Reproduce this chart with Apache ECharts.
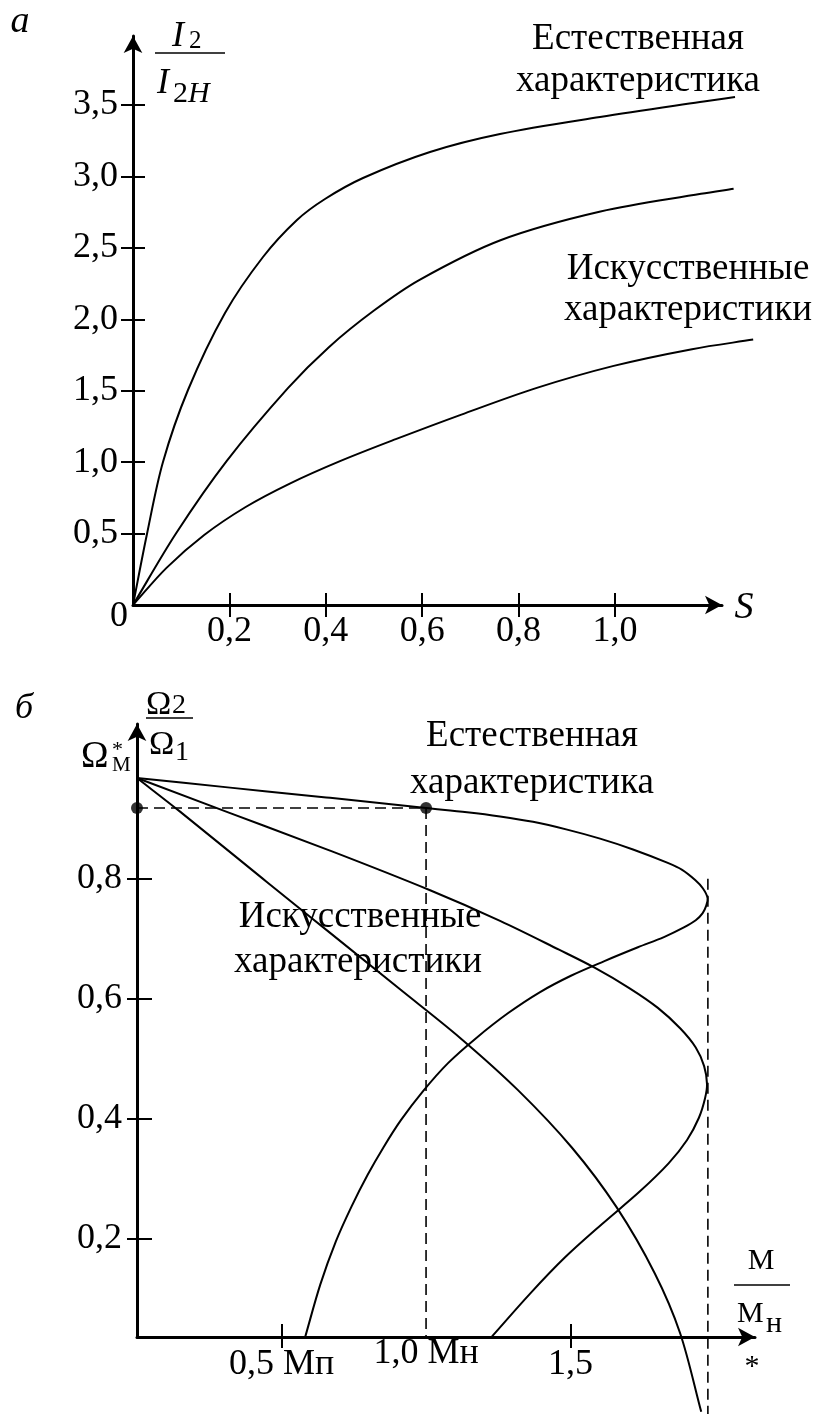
<!DOCTYPE html>
<html><head><meta charset="utf-8">
<script src="https://cdn.jsdelivr.net/npm/echarts@6/dist/echarts.min.js"></script>
<style>html,body{margin:0;padding:0;background:#fff}#c{width:817px;height:1414px}</style>
</head><body><div id="c"></div>
<script>
// ---------- Panel а : I2/I2H versus S ----------
const aXTicks = [0.2, 0.4, 0.6, 0.8, 1.0];
const aYTicks = [0.5, 1.0, 1.5, 2.0, 2.5, 3.0, 3.5];
const aNatural = [[0,0],[0.029,0.497],[0.0622,1.001],[0.1141,1.505],[0.1909,2.044],[0.2697,2.436],[0.3402,2.695],[0.3983,2.842],[0.4772,2.989],[0.6162,3.171],[0.7614,3.297],[0.9689,3.416],[1.1763,3.521],[1.249,3.556]];
const aArtificial1 = [[0,0],[0.0898,0.504],[0.1946,1.009],[0.3214,1.518],[0.4064,1.805],[0.5,2.061],[0.5946,2.276],[0.7624,2.553],[0.9699,2.754],[1.1784,2.878],[1.2461,2.914]];
const aArtificial2 = [[0,0],[0.0695,0.26],[0.1477,0.49],[0.2338,0.686],[0.3253,0.85],[0.4295,1.007],[0.5452,1.161],[0.6813,1.333],[0.8378,1.52],[0.9973,1.674],[1.1598,1.791],[1.2867,1.858]];

// ---------- Panel б : Ω2/Ω1 versus M/Mн ----------
const bXTicks = [0.5, 1.5];
const bXLabelsLow = [0.5, 1.5];
const bXLabelsHigh = [1.0];
const bXLabelText = {'0.5': '0,5 Мп', '1.0': '1,0 Мн', '1.5': '1,5'};
const bYTicks = [0.2, 0.4, 0.6, 0.8];
const bNatural = [[0,0.968],[0.322,0.952],[0.668,0.935],[1.0,0.918],[1.142,0.911],[1.256,0.904],[1.37,0.895],[1.488,0.882],[1.602,0.867],[1.716,0.849],[1.834,0.827],[1.886,0.815],[1.931,0.798],[1.958,0.784],[1.974,0.768],[1.969,0.755],[1.957,0.743],[1.933,0.731],[1.892,0.719],[1.823,0.703],[1.733,0.686],[1.617,0.663],[1.503,0.639],[1.393,0.611],[1.283,0.576],[1.174,0.535],[1.076,0.493],[0.989,0.446],[0.913,0.398],[0.853,0.353],[0.798,0.307],[0.742,0.254],[0.688,0.196],[0.634,0.124],[0.582,0.037]];
const bArtificial1 = [[0,0.968],[0.32,0.91],[0.668,0.847],[1.014,0.781],[1.256,0.73],[1.46,0.682],[1.583,0.652],[1.703,0.618],[1.802,0.585],[1.879,0.551],[1.933,0.519],[1.962,0.488],[1.972,0.458],[1.965,0.434],[1.944,0.402],[1.903,0.365],[1.839,0.326],[1.739,0.279],[1.609,0.225],[1.48,0.169],[1.36,0.109],[1.227,0.037]];
const bArtificial2 = [[0,0.968],[0.149,0.912],[0.436,0.80],[0.668,0.71],[0.91,0.616],[1.118,0.535],[1.318,0.448],[1.505,0.352],[1.659,0.253],[1.791,0.143],[1.879,0.043],[1.952,-0.088]];
const bRatedTorque = 1.0;
const bRatedSpeed = 0.918;
const bMaxTorque = 1.975;
const bMaxTorqueTop = 0.80;
const bMaxTorqueBottom = -0.092;

// ---------- layout ----------
const A = {left:133, top:36, width:589, height:569, xMax:1.222, yMax:3.983, dataXMax:1.30};
const B = {left:137, top:724, width:618, height:613, xMax:2.138, yMin:0.0367, yMax:1.058};
const SERIF = '"Liberation Serif", "Times New Roman", serif';
const LBL = 36;
const TXT = 37;

function fmt(v){ return v.toFixed(1).replace('.', ','); }

function mainAxisLine(){
  return {show:true, onZero:false, symbol:['none','arrow'], symbolSize:[14,17], lineStyle:{color:'#000', width:3}};
}
function labelStyle(extra){
  return Object.assign({color:'#000', fontSize:LBL, fontFamily:SERIF}, extra);
}
const hidden = {show:false};

const xAxes = [
  {gridIndex:0, type:'value', position:'bottom', min:0, max:A.xMax,
   axisLine: mainAxisLine(),
   axisTick:{show:true, customValues:aXTicks, length:12, lineStyle:{color:'#000', width:2}},
   axisLabel: labelStyle({customValues:aXTicks, formatter:fmt, margin:9}),
   splitLine:hidden},
  {gridIndex:0, type:'value', position:'bottom', min:0, max:A.xMax,
   axisLine:{show:false, onZero:false},
   axisTick:{show:true, inside:true, customValues:aXTicks, length:12, lineStyle:{color:'#000', width:2}},
   axisLabel:hidden, splitLine:hidden},
  {gridIndex:1, type:'value', position:'bottom', min:0, max:B.xMax,
   axisLine: mainAxisLine(),
   axisTick:{show:true, customValues:bXTicks, length:11, lineStyle:{color:'#000', width:2}},
   axisLabel: labelStyle({customValues:bXLabelsLow, formatter:v=>bXLabelText[v.toFixed(1)], margin:10}),
   splitLine:hidden},
  {gridIndex:1, type:'value', position:'bottom', min:0, max:B.xMax,
   axisLine:{show:false, onZero:false},
   axisTick:{show:true, inside:true, customValues:bXTicks, length:13, lineStyle:{color:'#000', width:2}},
   axisLabel: labelStyle({customValues:bXLabelsHigh, formatter:v=>bXLabelText[v.toFixed(1)], margin:-1}),
   splitLine:hidden},
  // data axis of panel а (same scale, wider so the curves may run past the arrow)
  {gridIndex:2, type:'value', min:0, max:A.dataXMax, show:false}
];
const yAxes = [
  {gridIndex:0, type:'value', position:'left', min:0, max:A.yMax,
   axisLine: mainAxisLine(),
   axisTick:{show:true, customValues:aYTicks, length:12, lineStyle:{color:'#000', width:2}},
   axisLabel: labelStyle({customValues:aYTicks, formatter:fmt, margin:15}),
   splitLine:hidden},
  {gridIndex:0, type:'value', position:'left', min:0, max:A.yMax,
   axisLine:{show:false, onZero:false},
   axisTick:{show:true, inside:true, customValues:aYTicks, length:12, lineStyle:{color:'#000', width:2}},
   axisLabel:hidden, splitLine:hidden},
  {gridIndex:1, type:'value', position:'left', min:B.yMin, max:B.yMax,
   axisLine: mainAxisLine(),
   axisTick:{show:true, customValues:bYTicks, length:10, lineStyle:{color:'#000', width:2}},
   axisLabel: labelStyle({customValues:bYTicks, formatter:fmt, margin:15}),
   splitLine:hidden},
  {gridIndex:1, type:'value', position:'left', min:B.yMin, max:B.yMax,
   axisLine:{show:false, onZero:false},
   axisTick:{show:true, inside:true, customValues:bYTicks, length:15, lineStyle:{color:'#000', width:2}},
   axisLabel:hidden, splitLine:hidden},
  {gridIndex:2, type:'value', min:0, max:A.yMax, show:false}
];

// Smooth curve through the data points (chord-length Catmull-Rom), positioned by the axes' scales.
function curve(data, xi, yi){
  return {type:'custom', coordinateSystem:'cartesian2d', xAxisIndex:xi, yAxisIndex:yi,
    data:[data[0]], silent:true, clip:false, z:3,
    renderItem:function(params, api){
      const p = data.map(function(d){ return api.coord(d); });
      const len = function(a, b){ return Math.hypot(b[0]-a[0], b[1]-a[1]); };
      let path = 'M ' + p[0][0] + ' ' + p[0][1];
      for (let i = 0; i < p.length - 1; i++){
        const p0 = p[i-1] || p[i], p1 = p[i], p2 = p[i+1], p3 = p[i+2] || p[i+1];
        const l01 = len(p0,p1), l12 = len(p1,p2), l23 = len(p2,p3);
        const k1 = l12 / (3 * (l01 + l12));
        const k2 = l12 / (3 * (l12 + l23));
        const c1 = [p1[0] + (p2[0]-p0[0])*k1, p1[1] + (p2[1]-p0[1])*k1];
        const c2 = [p2[0] - (p3[0]-p1[0])*k2, p2[1] - (p3[1]-p1[1])*k2];
        path += ' C ' + c1[0] + ' ' + c1[1] + ' ' + c2[0] + ' ' + c2[1] + ' ' + p2[0] + ' ' + p2[1];
      }
      return {type:'path', shape:{pathData:path}, style:{fill:'none', stroke:'#000', lineWidth:2, lineJoin:'round'}};
    }};
}
function dashed(data){
  return {type:'line', data:data, xAxisIndex:2, yAxisIndex:2, showSymbol:false, clip:false, silent:true,
          lineStyle:{color:'#000', width:1.6, type:[11,6]}};
}

const series = [
  curve(aNatural, 4, 4), curve(aArtificial1, 4, 4), curve(aArtificial2, 4, 4),
  curve(bNatural, 2, 2), curve(bArtificial1, 2, 2), curve(bArtificial2, 2, 2),
  dashed([[0, bRatedSpeed],[bRatedTorque, bRatedSpeed]]),
  dashed([[bRatedTorque, bRatedSpeed],[bRatedTorque, B.yMin]]),
  dashed([[bMaxTorque, bMaxTorqueTop],[bMaxTorque, bMaxTorqueBottom]]),
  {type:'scatter', xAxisIndex:2, yAxisIndex:2, data:[[0, bRatedSpeed],[bRatedTorque, bRatedSpeed]],
   symbol:'circle', symbolSize:12, itemStyle:{color:'#000'}, clip:false, silent:true, z:5}
];

function T(text, x, y, size, opt){
  opt = opt || {};
  return {type:'text', x:x, y:y, z:10, silent:true,
    style:Object.assign({text:text, fill:'#000', fontSize:size, fontFamily:SERIF,
      fontStyle: opt.italic ? 'italic' : 'normal',
      align: opt.align || 'center', verticalAlign:'middle'}, opt.style || {})};
}
function L(x1, y1, x2, y2){
  return {type:'line', z:10, silent:true, shape:{x1:x1, y1:y1, x2:x2, y2:y2}, style:{stroke:'#000', lineWidth:1.3}};
}

const graphics = [
  // panel а
  T('а', 20, 22, 38, {italic:true}),
  T('I', 172, 37, 36, {italic:true, align:'left'}),
  T('2', 189, 41, 25, {align:'left'}),
  L(155, 53, 225, 53),
  T('I', 157, 84, 36, {italic:true, align:'left'}),
  T('2', 173, 94, 30, {align:'left'}),
  T('H', 188, 94, 30, {italic:true, align:'left'}),
  T('0', 119, 617, LBL),
  T('S', 744, 608, 38, {italic:true}),
  T('Естественная', 638, 39, TXT),
  T('характеристика', 638, 81, TXT),
  T('Искусственные', 688, 269, TXT),
  T('характеристики', 688, 310, TXT),
  // panel б
  T('б', 24, 709, 36, {italic:true}),
  T('Ω', 146, 705, 34, {align:'left'}),
  T('2', 172, 706, 28, {align:'left'}),
  L(146, 718, 193, 718),
  T('Ω', 149, 745, 34, {align:'left'}),
  T('1', 175, 753, 28, {align:'left'}),
  T('Ω', 81, 757, 37, {align:'left'}),
  T('*', 112, 750, 22, {align:'left'}),
  T('М', 112, 765, 21, {align:'left'}),
  T('М', 761, 1261, 30),
  L(734, 1285, 790, 1285),
  T('М', 737, 1314, 30, {align:'left'}),
  T('н', 766, 1324, 30, {align:'left'}),
  T('*', 752, 1367, 30),
  T('Естественная', 532, 736, TXT),
  T('характеристика', 532, 783, TXT),
  T('Искусственные', 360, 917, TXT),
  T('характеристики', 358, 962, TXT)
];

const chart = echarts.init(document.getElementById('c'), null, {renderer:'canvas', width:817, height:1414});
chart.setOption({
  animation:false,
  backgroundColor:'#fff',
  grid:[
    {left:A.left, top:A.top, width:A.width, height:A.height, containLabel:false, outerBoundsMode:'none'},
    {left:B.left, top:B.top, width:B.width, height:B.height, containLabel:false, outerBoundsMode:'none'},
    {left:A.left, top:A.top, width:A.width * A.dataXMax / A.xMax, height:A.height, containLabel:false, outerBoundsMode:'none'}
  ],
  xAxis:xAxes,
  yAxis:yAxes,
  series:series,
  graphic:graphics
});
</script>
</body></html>
